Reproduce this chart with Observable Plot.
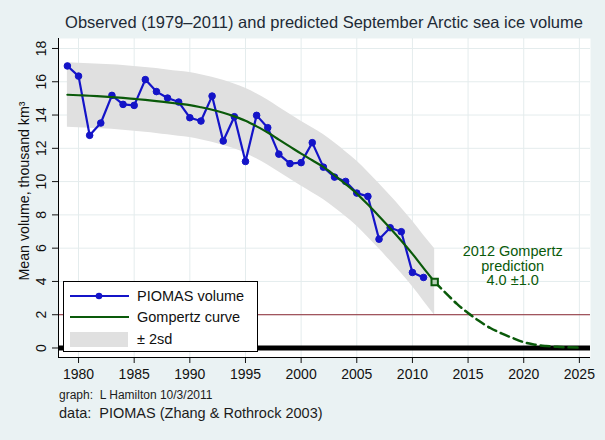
<!DOCTYPE html>
<html><head><meta charset="utf-8">
<script src="https://cdn.jsdelivr.net/npm/d3@7"></script>
<script src="https://cdn.jsdelivr.net/npm/@observablehq/plot@0.6"></script>
<style>
body{margin:0;background:#eaf2f3;font-family:"Liberation Sans",Arial,sans-serif;}
#wrap{position:relative;width:605px;height:440px;background:#eaf2f3;overflow:hidden}
#chart{position:absolute;left:0;top:0}
.txt{position:absolute;white-space:pre;color:#1c1c1c}
#title{left:58px;width:532px;top:13px;text-align:center;font-size:16.5px;color:#1e2a36}
#cap1{left:59px;top:388px;font-size:12px}
#cap2{left:59px;top:405px;font-size:14.5px}
#legend{position:absolute;left:63px;top:281px;width:195px;height:71px;background:#fff;border:1px solid #000;box-sizing:border-box;font-size:14.5px;color:#111}
.row{position:absolute;left:0;height:20px;width:190px}
.row svg{position:absolute;left:5px;top:0}
.row span{position:absolute;left:73px;top:2px;white-space:pre}
</style></head>
<body><div id="wrap">
<div id="title" class="txt"></div>
<div id="chart"></div>
<div id="legend"></div>
<div id="cap1" class="txt"></div>
<div id="cap2" class="txt"></div>
</div>
<script>
// ---- data ----
const titleText = "Observed (1979\u20132011) and predicted September Arctic sea ice volume";
const yLabel = "Mean volume, thousand km\u00b3";
const caption1 = "graph:  L Hamilton 10/3/2011";
const caption2 = "data:  PIOMAS (Zhang & Rothrock 2003)";
const legendLabels = ["PIOMAS volume", "Gompertz curve", "\u00b1 2sd"];
const noteLines = ["2012 Gompertz", "prediction", "4.0 \u00b11.0"];

const obsYears = [1979,1980,1981,1982,1983,1984,1985,1986,1987,1988,1989,1990,1991,1992,1993,1994,1995,1996,1997,1998,1999,2000,2001,2002,2003,2004,2005,2006,2007,2008,2009,2010,2011];
const obsVolume = [16.95,16.34,12.78,13.52,15.18,14.64,14.58,16.13,15.41,15.02,14.78,13.84,13.64,15.14,12.44,13.90,11.21,13.98,13.24,11.65,11.08,11.14,12.34,10.87,10.27,10.01,9.31,9.11,6.54,7.23,6.99,4.54,4.24];

const fitYears = [1979,1980,1981,1982,1983,1984,1985,1986,1987,1988,1989,1990,1991,1992,1993,1994,1995,1996,1997,1998,1999,2000,2001,2002,2003,2004,2005,2006,2007,2008,2009,2010,2011,2012];
const fitVolume = [15.22,15.19,15.16,15.12,15.08,15.03,14.97,14.91,14.84,14.76,14.68,14.60,14.47,14.32,14.14,13.92,13.66,13.32,12.95,12.52,12.10,11.68,11.28,10.88,10.38,9.85,9.28,8.62,7.92,7.20,6.45,5.66,4.80,3.97];
const bandUpper = [17.15,17.12,17.09,17.06,17.02,16.98,16.92,16.86,16.79,16.71,16.63,16.55,16.42,16.27,16.09,15.87,15.61,15.28,14.90,14.47,14.05,13.63,13.23,12.83,12.33,11.80,11.24,10.58,9.88,9.16,8.42,7.63,6.78,5.97];
const bandLower = [13.27,13.24,13.21,13.18,13.14,13.08,13.02,12.96,12.89,12.81,12.73,12.65,12.52,12.37,12.19,11.97,11.71,11.37,11.00,10.57,10.15,9.73,9.33,8.93,8.43,7.90,7.33,6.66,5.96,5.24,4.49,3.69,2.83,1.97];

const predYears = [2012,2013,2014,2015,2016,2017,2018,2019,2020,2021,2022,2023,2024,2025];
const predVolume = [3.97,3.30,2.65,2.10,1.62,1.20,0.88,0.60,0.35,0.20,0.12,0.07,0.04,0.02];

const predPoint = [{year: 2012, v: 3.97}];
const refLevels = [2];   // thin reference line
const zeroLevel = [0];   // thick baseline

const xTicks = [1980,1985,1990,1995,2000,2005,2010,2015,2020,2025];
const yTicks = [0,2,4,6,8,10,12,14,16,18];
const xDomain = [1978.2, 2026];
const yDomain = [-0.571, 18.6];

// ---- colours ----
const BLUE = "#1414c8", GREEN = "#0a5a0a", BAND = "#e0e0e0", MAROON = "#8c2a35", GRID = "#e4eced";

const obs = obsYears.map((y,i)=>({year:y, v:obsVolume[i]}));
const fit = fitYears.map((y,i)=>({year:y, v:fitVolume[i], hi:bandUpper[i], lo:bandLower[i]}));
const pred = predYears.map((y,i)=>({year:y, v:predVolume[i]}));

const plot = Plot.plot({
  width: 605, height: 440,
  marginLeft: 58, marginRight: 15, marginTop: 38, marginBottom: 83,
  style: {background: "transparent", fontFamily: "Liberation Sans, Arial, sans-serif"},
  x: {domain: xDomain},
  y: {domain: yDomain},
  marks: [
    Plot.frame({fill: "white", stroke: null}),
    Plot.gridX(xTicks, {stroke: GRID, strokeOpacity: 1}),
    Plot.gridY(yTicks, {stroke: GRID, strokeOpacity: 1}),
    Plot.areaY(fit, {x: "year", y1: "lo", y2: "hi", fill: BAND, curve: "monotone-x"}),
    Plot.ruleY(refLevels, {stroke: MAROON, strokeWidth: 1}),
    Plot.ruleY(zeroLevel, {stroke: "#000", strokeWidth: 5}),
    Plot.line(pred, {x: "year", y: "v", stroke: GREEN, strokeWidth: 2.5, strokeDasharray: "9,5", curve: "monotone-x"}),
    Plot.line(obs, {x: "year", y: "v", stroke: BLUE, strokeWidth: 2.2}),
    Plot.dot(obs, {x: "year", y: "v", r: 3.3, fill: BLUE, stroke: BLUE, strokeWidth: 1}),
    Plot.line(fit, {x: "year", y: "v", stroke: GREEN, strokeWidth: 2.2, curve: "monotone-x"}),
    Plot.dot(predPoint, {x: "year", y: "v", symbol: "square", r: 3.6, fill: "#b8d0b8", stroke: GREEN, strokeWidth: 2}),
    Plot.text(predPoint, {x: "year", y: "v", text: () => noteLines.join("\n"), dx: 78, dy: -16, fill: GREEN, fontSize: 14.5, lineHeight: 1.02, textAnchor: "middle"}),
    Plot.axisX({ticks: xTicks, tickFormat: d => String(d), tickSize: 6, tickPadding: 6, fontSize: 14, label: null, color: "#111"}),
    Plot.axisY({ticks: yTicks, tickSize: 6, tickPadding: 7, tickRotate: -90, fontSize: 14, label: null, color: "#111"}),
    Plot.ruleX([xDomain[0]], {stroke: "#000", strokeWidth: 1}),
    Plot.ruleY([yDomain[0]], {stroke: "#000", strokeWidth: 1}),
    Plot.text([yLabel], {frameAnchor: "left", textAnchor: "middle", rotate: -90, dx: -34, dy: -7, fontSize: 14.2, fill: "#111", text: d => d})
  ]
});
document.getElementById("chart").appendChild(plot);
document.getElementById("title").textContent = titleText;
document.getElementById("cap1").textContent = caption1;
document.getElementById("cap2").textContent = caption2;

// legend
const leg = document.getElementById("legend");
const sym = [
  `<svg width="62" height="20"><line x1="1" x2="60" y1="10" y2="10" stroke="${BLUE}" stroke-width="2.2"/><circle cx="30" cy="10" r="3.3" fill="${BLUE}"/></svg>`,
  `<svg width="62" height="20"><line x1="1" x2="60" y1="10" y2="10" stroke="${GREEN}" stroke-width="2.2"/></svg>`,
  `<svg width="62" height="20"><rect x="1" y="3" width="58" height="15" fill="${BAND}"/></svg>`
];
const tops = [4, 25, 47];
legendLabels.forEach((l,i)=>{
  const r = document.createElement("div"); r.className = "row"; r.style.top = tops[i] + "px";
  r.innerHTML = sym[i] + `<span>${l}</span>`;
  leg.appendChild(r);
});
</script>
</body></html>
